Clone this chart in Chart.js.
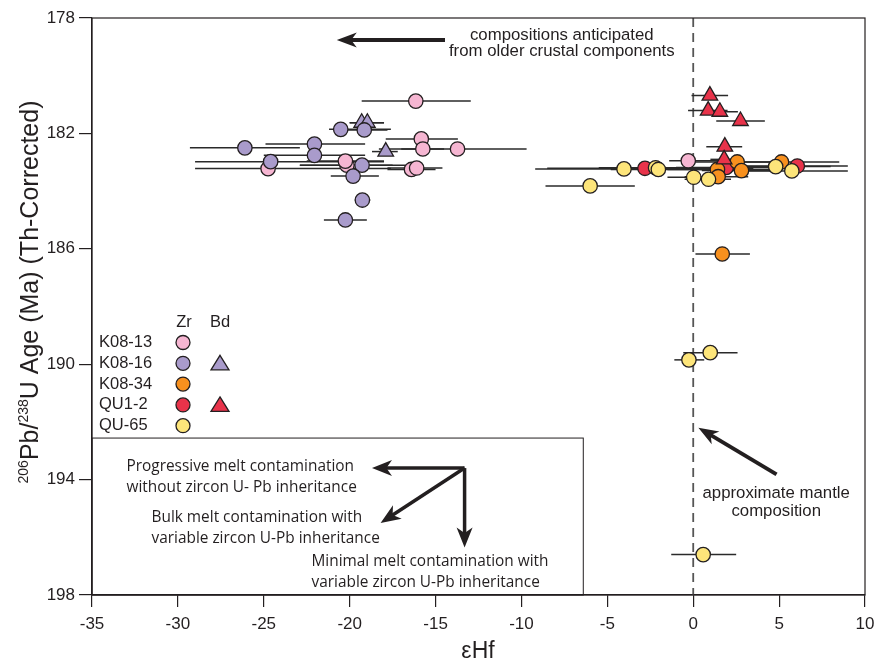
<!DOCTYPE html>
<html>
<head>
<meta charset="utf-8">
<script src="https://cdn.jsdelivr.net/npm/chart.js@4.4.1/dist/chart.umd.min.js"></script>
<style>
  html, body { margin: 0; padding: 0; background: #fff; }
  #wrap { width: 878px; height: 663px; }
</style>
</head>
<body>
<div id="wrap"><canvas id="chart" width="878" height="663"></canvas></div>
<script>
// axis ticks
const xTicks = [-35, -30, -25, -20, -15, -10, -5, 0, 5, 10];
const yTicks = [178, 182, 186, 190, 194, 198];

// K08-13 zircon
const k13Hf   = [-16.15, -15.83, -15.74, -13.72, -24.75, -20.16, -20.25, -16.4, -16.1, -0.29];
const k13Age  = [180.88, 182.19, 182.54, 182.54, 183.22, 183.1, 182.96, 183.25, 183.2, 182.95];
const k13Lo   = [-19.3, -17.9, -17.0, -18.3, -29.0, -22.9, -22.5, -17.8, -17.8, -1.4];
const k13Hi   = [-12.95, -13.7, -14.5, -9.7, -17.6, -17.5, -18.0, -15.0, -14.6, 1.5];

// K08-16 zircon
const k16Hf   = [-26.1, -22.05, -22.05, -20.52, -19.15, -24.6, -19.28, -19.8, -19.26, -20.25];
const k16Age  = [182.5, 182.37, 182.76, 181.86, 181.88, 182.98, 183.1, 183.48, 184.31, 185.0];
const k16Lo   = [-29.3, -24.9, -25.0, -21.2, -20.5, -29.0, -22.9, -21.1, -19.7, -21.5];
const k16Hi   = [-22.9, -19.1, -19.1, -17.6, -17.8, -18.0, -16.5, -18.3, -18.8, -19.0];

// K08-16 baddeleyite
const k16bHf  = [-19.3, -18.97, -17.9];
const k16bAge = [181.63, 181.63, 182.63];
const k16bLo  = [-20.0, -20.0, -18.7];
const k16bHi  = [-18.0, -18.0, -17.2];

// K08-34 zircon
const k34Hf   = [2.56, 1.41, 2.81, 5.14, 1.45, 1.69];
const k34Age  = [182.99, 183.25, 183.29, 182.99, 183.5, 186.18];
const k34Lo   = [-0.5, -1.5, 0.5, 2.0, -0.5, 0.13];
const k34Hi   = [5.5, 4.5, 5.0, 8.5, 3.2, 3.3];

// QU1-2 zircon
const qu12Hf  = [-2.81, 1.92, 6.06];
const qu12Age = [183.21, 183.18, 183.13];
const qu12Lo  = [-8.5, -1.0, 3.0];
const qu12Hi  = [3.5, 5.0, 9.0];

// QU1-2 baddeleyite
const qu12bHf  = [0.97, 0.87, 1.55, 2.75, 1.84, 1.8];
const qu12bAge = [180.69, 181.21, 181.25, 181.57, 182.46, 182.9];
const qu12bLo  = [-0.1, -0.3, 0.6, 1.34, 0.76, 1.0];
const qu12bHi  = [2.03, 2.0, 2.6, 4.17, 2.85, 2.6];

// QU-65 zircon
const qu65Hf  = [-6.0, -4.03, -2.19, -2.03, 0.03, 0.89, 4.8, 5.74, 0.99, -0.25, 0.58];
const qu65Age = [183.82, 183.23, 183.19, 183.25, 183.52, 183.59, 183.15, 183.3, 189.6, 189.85, 196.6];
const qu65Lo  = [-8.6, -9.2, -5.5, -4.8, -1.5, -0.5, 1.5, 2.5, -0.58, -1.1, -1.28];
const qu65Hi  = [-3.4, 1.0, 1.0, 0.8, 1.5, 2.2, 8.0, 9.0, 2.58, 0.64, 2.5];

const INK = '#231F20';
const SANS = '"Liberation Sans", Arial, sans-serif';
const colors = {
    pink: '#F6B6D2',
    purple: '#A99BCB',
    orange: '#F7901E',
    red: '#E8334A',
    yellow: '#FDE57A'
};

function makeSet(label, hf, age, lo, hi, color, style) {
    return {
        label: label,
        data: hf.map((v, i) => ({ x: v, y: age[i], lo: lo[i], hi: hi[i] })),
        backgroundColor: color,
        borderColor: INK,
        borderWidth: 1.3,
        pointStyle: style,
        pointRadius: style === 'triangle' ? 9 : 7.2,
        pointHoverRadius: style === 'triangle' ? 9 : 7.2
    };
}

const datasets = [
    makeSet('K08-16 Zr', k16Hf, k16Age, k16Lo, k16Hi, colors.purple, 'circle'),
    makeSet('K08-16 Bd', k16bHf, k16bAge, k16bLo, k16bHi, colors.purple, 'triangle'),
    makeSet('K08-13 Zr', k13Hf, k13Age, k13Lo, k13Hi, colors.pink, 'circle'),
    makeSet('QU1-2 Bd', qu12bHf, qu12bAge, qu12bLo, qu12bHi, colors.red, 'triangle'),
    makeSet('QU-65 Zr', qu65Hf, qu65Age, qu65Lo, qu65Hi, colors.yellow, 'circle'),
    makeSet('K08-34 Zr', k34Hf, k34Age, k34Lo, k34Hi, colors.orange, 'circle'),
    makeSet('QU1-2 Zr', qu12Hf, qu12Age, qu12Lo, qu12Hi, colors.red, 'circle')
];

// legend rows
const legendNames = ['K08-13', 'K08-16', 'K08-34', 'QU1-2', 'QU-65'];
const legendColors = [colors.pink, colors.purple, colors.orange, colors.red, colors.yellow];
const legendHasBd = [false, true, false, true, false];

function arrow(ctx, x1, y1, x2, y2, lw, headLen, headW) {
    const ang = Math.atan2(y2 - y1, x2 - x1);
    const bx = x2 - Math.cos(ang) * headLen * 0.7;
    const by = y2 - Math.sin(ang) * headLen * 0.7;
    ctx.save();
    ctx.strokeStyle = INK;
    ctx.fillStyle = INK;
    ctx.lineWidth = lw;
    ctx.beginPath();
    ctx.moveTo(x1, y1);
    ctx.lineTo(bx, by);
    ctx.stroke();
    ctx.translate(x2, y2);
    ctx.rotate(ang);
    ctx.beginPath();
    ctx.moveTo(0, 0);
    ctx.lineTo(-headLen, -headW / 2);
    ctx.lineTo(-headLen * 0.72, 0);
    ctx.lineTo(-headLen, headW / 2);
    ctx.closePath();
    ctx.fill();
    ctx.restore();
}

const decor = {
    id: 'decor',
    beforeDatasetsDraw(chart) {
        const ctx = chart.ctx;
        const xs = chart.scales.x, ys = chart.scales.y;
        const X = v => xs.getPixelForValue(v), Y = v => ys.getPixelForValue(v);
        const area = chart.chartArea;

        // dashed mantle line
        ctx.save();
        ctx.strokeStyle = '#555';
        ctx.lineWidth = 1.8;
        ctx.setLineDash([9, 6]);
        ctx.beginPath();
        ctx.moveTo(X(0), area.top);
        ctx.lineTo(X(0), area.bottom);
        ctx.stroke();
        ctx.restore();

        // error bars
        ctx.save();
        ctx.strokeStyle = '#2a2a2a';
        ctx.lineWidth = 1.5;
        chart.data.datasets.forEach(ds => {
            ds.data.forEach(p => {
                ctx.beginPath();
                ctx.moveTo(X(p.lo), Y(p.y));
                ctx.lineTo(X(p.hi), Y(p.y));
                ctx.stroke();
            });
        });
        ctx.restore();

        // annotation box
        ctx.save();
        ctx.strokeStyle = INK;
        ctx.lineWidth = 1;
        ctx.strokeRect(X(-35), Y(192.56), X(-6.4) - X(-35), Y(198) - Y(192.56));
        ctx.restore();
    },
    afterDraw(chart) {
        const ctx = chart.ctx;
        const xs = chart.scales.x, ys = chart.scales.y;
        const X = v => xs.getPixelForValue(v), Y = v => ys.getPixelForValue(v);
        const area = chart.chartArea;

        // frame
        ctx.save();
        ctx.strokeStyle = INK;
        ctx.lineWidth = 1.2;
        ctx.strokeRect(area.left, area.top, area.right - area.left, area.bottom - area.top);
        ctx.restore();

        // top arrow + text
        arrow(ctx, X(-14.45), Y(178.76), X(-20.75), Y(178.76), 4, 20, 15);
        ctx.save();
        ctx.fillStyle = INK;
        ctx.font = '16.8px ' + SANS;
        ctx.textAlign = 'center';
        ctx.textBaseline = 'middle';
        ctx.fillText('compositions anticipated', X(-7.65), 35);
        ctx.fillText('from older crustal components', X(-7.65), 51);

        // mantle arrow + text
        ctx.fillText('approximate mantle', X(4.83), 493);
        ctx.fillText('composition', X(4.83), 511);
        ctx.restore();
        arrow(ctx, X(4.85), Y(193.82), X(0.3), Y(192.2), 4, 20, 15);

        // box arrows
        const ox = X(-13.31), oy = Y(193.6);
        arrow(ctx, ox, oy, X(-18.7), oy, 3.5, 20, 16);
        arrow(ctx, ox, oy, X(-18.2), Y(195.5), 3.5, 20, 16);
        arrow(ctx, ox, oy, ox, Y(196.35), 3.5, 20, 16);

        ctx.save();
        ctx.fillStyle = INK;
        ctx.font = '15.4px "Open Sans", "Liberation Sans", sans-serif';
        ctx.textAlign = 'left';
        ctx.textBaseline = 'middle';
        ctx.fillText('Progressive melt contamination', 126.5, 467);
        ctx.fillText('without zircon U- Pb inheritance', 126.5, 488);
        ctx.fillText('Bulk melt contamination with', 151.5, 518);
        ctx.fillText('variable zircon U-Pb inheritance', 151.5, 539);
        ctx.fillText('Minimal melt contamination with', 311.5, 562);
        ctx.fillText('variable zircon U-Pb inheritance', 311.5, 583);
        ctx.restore();

        // legend
        ctx.save();
        ctx.fillStyle = INK;
        ctx.font = '16.5px ' + SANS;
        ctx.textBaseline = 'middle';
        ctx.textAlign = 'center';
        ctx.fillText('Zr', 184, 322);
        ctx.fillText('Bd', 220, 322);
        ctx.textAlign = 'left';
        legendNames.forEach((name, i) => {
            const y = 342.5 + i * 20.8;
            ctx.fillStyle = INK;
            ctx.fillText(name, 99, y);
            ctx.fillStyle = legendColors[i];
            ctx.strokeStyle = INK;
            ctx.lineWidth = 1.3;
            ctx.beginPath();
            ctx.arc(183, y, 7, 0, Math.PI * 2);
            ctx.fill();
            ctx.stroke();
            if (legendHasBd[i]) {
                ctx.beginPath();
                ctx.moveTo(220, y - 8);
                ctx.lineTo(229, y + 6.5);
                ctx.lineTo(211, y + 6.5);
                ctx.closePath();
                ctx.fill();
                ctx.stroke();
            }
        });
        ctx.restore();

        // y axis title with superscripts
        ctx.save();
        ctx.translate(38, 292);
        ctx.rotate(-Math.PI / 2);
        ctx.fillStyle = INK;
        ctx.textBaseline = 'alphabetic';
        const big = '25px ' + SANS;
        const small = '14px ' + SANS;
        const parts = [
            ['206', small, -10], ['Pb/', big, 0], ['238', small, -10], ['U Age (Ma) (Th-Corrected)', big, 0]
        ];
        let total = 0;
        parts.forEach(p => { ctx.font = p[1]; total += ctx.measureText(p[0]).width; });
        let cx = -total / 2;
        parts.forEach(p => {
            ctx.font = p[1];
            ctx.fillText(p[0], cx, p[2]);
            cx += ctx.measureText(p[0]).width;
        });
        ctx.restore();

        // x axis title
        ctx.save();
        ctx.fillStyle = INK;
        ctx.font = '23px ' + SANS;
        ctx.textAlign = 'center';
        ctx.textBaseline = 'alphabetic';
        ctx.fillText('\u03B5Hf', 478, 658);
        ctx.restore();
    }
};

new Chart(document.getElementById('chart'), {
    type: 'scatter',
    data: { datasets: datasets },
    options: {
        responsive: false,
        animation: false,
        layout: { padding: { top: 18, right: 13, left: 0, bottom: 0 } },
        plugins: {
            legend: { display: false },
            tooltip: { enabled: false }
        },
        scales: {
            x: {
                type: 'linear',
                min: -35,
                max: 10,
                afterBuildTicks: s => { s.ticks = xTicks.map(v => ({ value: v })); },
                afterFit: s => { s.height = 68; s.paddingLeft = 0; s.paddingRight = 0; },
                grid: { drawOnChartArea: false, tickLength: 12, color: INK, lineWidth: 1.2 },
                border: { color: INK, width: 1.2 },
                ticks: { color: INK, font: { size: 17, family: SANS }, padding: 7 }
            },
            y: {
                type: 'linear',
                reverse: true,
                min: 178,
                max: 198,
                afterBuildTicks: s => { s.ticks = yTicks.map(v => ({ value: v })); },
                afterFit: s => { s.width = 92; s.paddingTop = 0; s.paddingBottom = 0; },
                grid: { drawOnChartArea: false, tickLength: 13, color: INK, lineWidth: 1.2 },
                border: { color: INK, width: 1.2 },
                ticks: { color: INK, font: { size: 17, family: SANS }, padding: 4 }
            }
        }
    },
    plugins: [decor]
});
</script>
</body>
</html>
